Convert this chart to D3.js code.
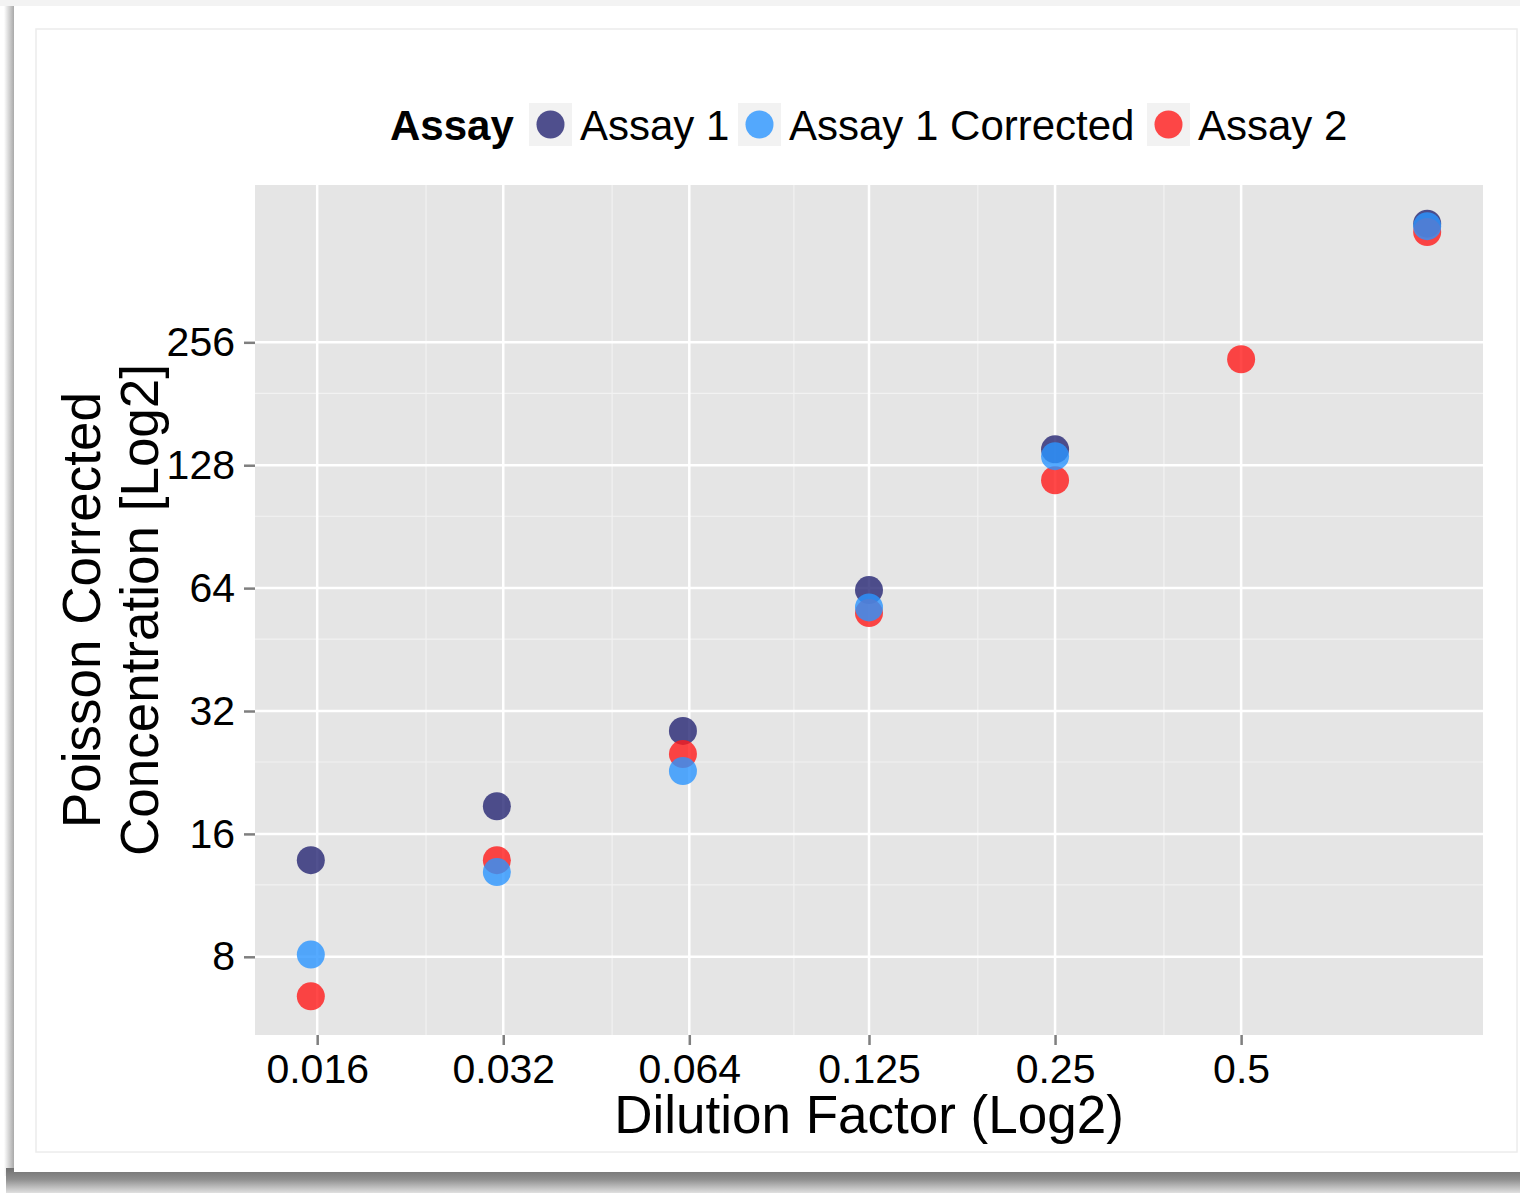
<!DOCTYPE html>
<html lang="en">
  <head>
    <meta charset="UTF-8" />
    <title>Poisson Corrected Concentration</title>
    <script src="https://cdn.jsdelivr.net/npm/d3@7"></script>
    <style>
      body { margin: 0; background: #fff; }
      svg { display: block; font-family: "Liberation Sans", Arial, sans-serif; }
    </style>
  </head>
  <body>
    <svg width="1520" height="1193"></svg>
    <script>
      // dilution steps (log2 spaced) and measured concentrations per assay
      const dilution = [0.015625, 0.03125, 0.0625, 0.125, 0.25, 0.5, 1];
      const assay1 = [13.8, 18.7, 28.6, 63.3, 140, null, 500];
      const assay2 = [6.4, 13.8, 25.1, 55.6, 117.6, 232.7, 477];
      const assay1Corrected = [8.1, 12.9, 22.8, 57.4, 134.7, null, 493];

      const seriesNames = ["Assay 1", "Assay 1 Corrected", "Assay 2"];
      const seriesColors = ["#262673", "#2b95ff", "#ff1a1a"];

      const xTicks = [0.016, 0.032, 0.064, 0.125, 0.25, 0.5];
      const xTickLabels = ["0.016", "0.032", "0.064", "0.125", "0.25", "0.5"];
      const yTicks = [8, 16, 32, 64, 128, 256];
      const yTickLabels = ["8", "16", "32", "64", "128", "256"];

      const svg = d3.select("svg");

      // photo frame / drop shadow
      const defs = svg.append("defs");
      const gl = defs.append("linearGradient").attr("id", "shL");
      gl.append("stop").attr("offset", "0").attr("stop-color", "#ffffff");
      gl.append("stop").attr("offset", "1").attr("stop-color", "#a9a9a9");
      const gb = defs.append("linearGradient").attr("id", "shB")
        .attr("x1", 0).attr("x2", 0).attr("y1", 0).attr("y2", 1);
      gb.append("stop").attr("offset", "0").attr("stop-color", "#707070");
      gb.append("stop").attr("offset", "0.45").attr("stop-color", "#8e8e8e");
      gb.append("stop").attr("offset", "1").attr("stop-color", "#e0e0e0");

      svg.append("rect").attr("x", 0).attr("y", 0).attr("width", 1520).attr("height", 6).attr("fill", "#f3f3f3");
      svg.append("rect").attr("x", 4).attr("y", 6).attr("width", 10).attr("height", 1170).attr("fill", "url(#shL)");
      svg.append("rect").attr("x", 6).attr("y", 1168).attr("width", 1514).attr("height", 25).attr("fill", "url(#shB)");
      svg.append("rect").attr("x", 14).attr("y", 6).attr("width", 1506).attr("height", 1166).attr("fill", "#fff");
      svg.append("rect").attr("x", 36).attr("y", 29).attr("width", 1481).attr("height", 1123)
        .attr("fill", "none").attr("stroke", "#ececec").attr("stroke-width", 1.5);

      const panel = { left: 255, top: 185, right: 1483, bottom: 1035 };

      // ggplot-like 5% expansion on log2 scale
      const lx = [Math.log2(d3.min(dilution)), Math.log2(d3.max(dilution))];
      const padX = (lx[1] - lx[0]) * 0.05;
      const allY = assay1.concat(assay2, assay1Corrected).filter(v => v != null);
      const ly = [Math.log2(d3.min(allY)), Math.log2(d3.max(allY))];
      const padY = (ly[1] - ly[0]) * 0.05;

      const x = d3.scaleLog().base(2)
        .domain([2 ** (lx[0] - padX), 2 ** (lx[1] + padX)])
        .range([panel.left, panel.right]);
      const y = d3.scaleLog().base(2)
        .domain([2 ** (ly[0] - padY), 2 ** (ly[1] + padY)])
        .range([panel.bottom, panel.top]);

      svg.append("rect")
        .attr("x", panel.left).attr("y", panel.top)
        .attr("width", panel.right - panel.left).attr("height", panel.bottom - panel.top)
        .attr("fill", "#e5e5e5");

      // minor breaks sit at linear midpoints between majors
      const xMinor = d3.pairs(xTicks).map(p => (p[0] + p[1]) / 2);
      const yMinor = d3.pairs(yTicks).map(p => (p[0] + p[1]) / 2);

      const grid = svg.append("g");
      grid.selectAll(".xminor").data(xMinor).join("line")
        .attr("x1", d => x(d)).attr("x2", d => x(d))
        .attr("y1", panel.top).attr("y2", panel.bottom)
        .attr("stroke", "#f2f2f2").attr("stroke-width", 1.2);
      grid.selectAll(".yminor").data(yMinor).join("line")
        .attr("y1", d => y(d)).attr("y2", d => y(d))
        .attr("x1", panel.left).attr("x2", panel.right)
        .attr("stroke", "#f2f2f2").attr("stroke-width", 1.2);
      grid.selectAll(".xmajor").data(xTicks).join("line")
        .attr("x1", d => x(d)).attr("x2", d => x(d))
        .attr("y1", panel.top).attr("y2", panel.bottom)
        .attr("stroke", "#fff").attr("stroke-width", 2.5);
      grid.selectAll(".ymajor").data(yTicks).join("line")
        .attr("y1", d => y(d)).attr("y2", d => y(d))
        .attr("x1", panel.left).attr("x2", panel.right)
        .attr("stroke", "#fff").attr("stroke-width", 2.5);

      // axes
      const xAxis = d3.axisBottom(x).tickValues(xTicks)
        .tickFormat((d, i) => xTickLabels[i]).tickSize(10).tickPadding(9);
      const gx = svg.append("g").attr("transform", `translate(0,${panel.bottom})`).call(xAxis);
      gx.select(".domain").remove();
      gx.selectAll("line").attr("stroke", "#7f7f7f").attr("stroke-width", 2.5);
      gx.selectAll("text").attr("font-size", 41).attr("fill", "#000");

      const yAxis = d3.axisLeft(y).tickValues(yTicks)
        .tickFormat((d, i) => yTickLabels[i]).tickSize(11).tickPadding(9);
      const gy = svg.append("g").attr("transform", `translate(${panel.left},0)`).call(yAxis);
      gy.select(".domain").remove();
      gy.selectAll("line").attr("stroke", "#7f7f7f").attr("stroke-width", 2.5);
      gy.selectAll("text").attr("font-size", 41).attr("fill", "#000");

      // points, drawn Assay 1, Assay 2, then corrected on top
      const rows = [];
      const drawOrder = [[assay1, 0], [assay2, 2], [assay1Corrected, 1]];
      drawOrder.forEach(([vals, si]) => {
        vals.forEach((v, i) => {
          if (v != null) rows.push({ x: dilution[i], y: v, s: si });
        });
      });
      svg.append("g").selectAll("circle").data(rows).join("circle")
        .attr("cx", d => x(d.x)).attr("cy", d => y(d.y)).attr("r", 14)
        .attr("fill", d => seriesColors[d.s]).attr("fill-opacity", 0.8);

      // axis titles
      svg.append("text")
        .attr("x", (panel.left + panel.right) / 2).attr("y", 1133)
        .attr("text-anchor", "middle").attr("font-size", 53)
        .text("Dilution Factor (Log2)");
      const yt = svg.append("text")
        .attr("transform", `translate(100,${(panel.top + panel.bottom) / 2}) rotate(-90)`)
        .attr("text-anchor", "middle").attr("font-size", 53);
      yt.append("tspan").attr("x", 0).attr("y", 0).text("Poisson Corrected");
      yt.append("tspan").attr("x", 0).attr("y", 58).text("Concentration [Log2]");

      // legend
      const lg = svg.append("g");
      lg.append("text").attr("x", 390).attr("y", 140)
        .attr("font-size", 42).attr("font-weight", "bold").text("Assay");
      const keyX = [529, 738, 1147];
      seriesNames.forEach((name, i) => {
        lg.append("rect").attr("x", keyX[i]).attr("y", 103).attr("width", 43).attr("height", 43)
          .attr("fill", "#f2f2f2");
        lg.append("circle").attr("cx", keyX[i] + 21.5).attr("cy", 124.5).attr("r", 14)
          .attr("fill", seriesColors[i]).attr("fill-opacity", 0.8);
        lg.append("text").attr("x", keyX[i] + 51).attr("y", 140)
          .attr("font-size", 42).text(name);
      });
    </script>
  </body>
</html>
